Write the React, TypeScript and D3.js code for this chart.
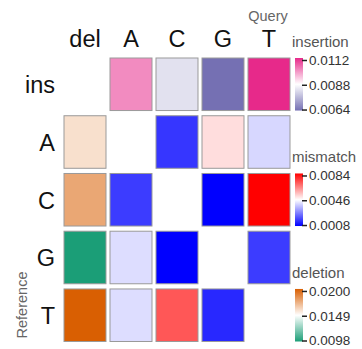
import React, { useRef, useEffect } from 'react';
import * as d3 from 'd3';

// query columns (del + bases) and reference rows (ins + bases)
const queryCols = ["del", "A", "C", "G", "T"];
const refRows = ["ins", "A", "C", "G", "T"];
const bases = ["A", "C", "G", "T"];

// insertion rate per query base (row "ins")
const insertionValues = [0.0101, 0.0083, 0.0064, 0.0112];
// deletion rate per reference base (column "del")
const deletionValues = [0.0159, 0.0177, 0.0098, 0.0200];
// mismatch rate, rows = reference base, cols = query base
const mismatchValues = [
  [null, 0.0016, 0.0051, 0.0040],
  [0.0017, null, 0.0008, 0.0084],
  [0.0041, 0.0008, null, 0.0017],
  [0.0041, 0.0071, 0.0014, null],
];

const insertionTicks = [0.0064, 0.0088, 0.0112];
const mismatchTicks = [0.0008, 0.0046, 0.0084];
const deletionTicks = [0.0098, 0.0149, 0.0200];

const FONT = "Liberation Sans, Arial, Helvetica, sans-serif";

function App() {
  const svgRef = useRef(null);

  useEffect(() => {
    const svg = d3.select(svgRef.current);
    svg.selectAll("*").remove();

    const x = d3.scaleBand().domain(queryCols).range([62, 292])
      .paddingInner(0.087).paddingOuter(0.0435);
    const y = d3.scaleBand().domain(refRows).range([55.4, 344.1])
      .paddingInner(0.09).paddingOuter(0.045);

    const insColor = d3.scaleLinear<string>()
      .domain(insertionTicks).range(["#7570b3", "#ffffff", "#e7298a"]);
    const misColor = d3.scaleLinear<string>()
      .domain(mismatchTicks).range(["#0000ff", "#ffffff", "#ff0000"]);
    const delColor = d3.scaleLinear<string>()
      .domain(deletionTicks).range(["#1b9e77", "#ffffff", "#d95f02"]);

    // build cell list
    const cells = [];
    bases.forEach((b, i) => {
      cells.push({ row: "ins", col: b, fill: insColor(insertionValues[i]) });
      cells.push({ row: b, col: "del", fill: delColor(deletionValues[i]) });
      bases.forEach((q, j) => {
        const v = mismatchValues[i][j];
        if (v != null) cells.push({ row: b, col: q, fill: misColor(v) });
      });
    });

    svg.append("g").selectAll("rect")
      .data(cells)
      .enter()
      .append("rect")
      .attr("x", d => x(d.col))
      .attr("y", d => y(d.row))
      .attr("width", x.bandwidth())
      .attr("height", y.bandwidth())
      .attr("fill", d => d.fill)
      .attr("stroke", "#9a9a9a")
      .attr("stroke-width", 1);

    // column labels
    svg.append("g").selectAll("text")
      .data(queryCols)
      .enter()
      .append("text")
      .attr("x", d => x(d) + x.bandwidth() / 2)
      .attr("y", 47)
      .attr("text-anchor", "middle")
      .attr("font-family", FONT)
      .attr("font-size", 23.5)
      .attr("fill", "#111")
      .text(d => d);

    // row labels
    svg.append("g").selectAll("text")
      .data(refRows)
      .enter()
      .append("text")
      .attr("x", 55)
      .attr("y", d => y(d) + y.bandwidth() / 2 + 9)
      .attr("text-anchor", "end")
      .attr("font-family", FONT)
      .attr("font-size", 23.5)
      .attr("fill", "#111")
      .text(d => d);

    // axis titles
    svg.append("text")
      .attr("x", 268).attr("y", 21)
      .attr("text-anchor", "middle")
      .attr("font-family", FONT).attr("font-size", 14.5)
      .attr("fill", "#666")
      .text("Query");
    svg.append("text")
      .attr("transform", "translate(27,305)rotate(-90)")
      .attr("text-anchor", "middle")
      .attr("font-family", FONT).attr("font-size", 14.5)
      .attr("fill", "#666")
      .text("Reference");

    // colour legends
    const legends = [
      { id: "ins", title: "insertion", ticks: insertionTicks, color: insColor, row: "ins" },
      { id: "mis", title: "mismatch", ticks: mismatchTicks, color: misColor, row: "C" },
      { id: "del", title: "deletion", ticks: deletionTicks, color: delColor, row: "T" },
    ];
    const defs = svg.append("defs");
    legends.forEach(l => {
      const top = y(l.row);
      const bottom = top + y.bandwidth();
      const grad = defs.append("linearGradient")
        .attr("id", "grad-" + l.id)
        .attr("x1", 0).attr("y1", 1).attr("x2", 0).attr("y2", 0);
      l.ticks.forEach((t, i) => {
        grad.append("stop")
          .attr("offset", i / (l.ticks.length - 1))
          .attr("stop-color", l.color(t));
      });
      const g = svg.append("g");
      g.append("text")
        .attr("x", 292).attr("y", top - 11)
        .attr("font-family", FONT).attr("font-size", 15)
        .attr("fill", "#555")
        .text(l.title);
      g.append("rect")
        .attr("x", 295).attr("y", top)
        .attr("width", 8).attr("height", bottom - top)
        .attr("fill", "url(#grad-" + l.id + ")");
      const s = d3.scaleLinear()
        .domain([l.ticks[0], l.ticks[l.ticks.length - 1]])
        .range([bottom - 1, top + 2]);
      const axis = d3.axisRight(s)
        .tickValues(l.ticks)
        .tickFormat(d3.format(".4f"))
        .tickSize(5)
        .tickPadding(2);
      const ag = g.append("g")
        .attr("transform", "translate(302,0)")
        .call(axis);
      ag.select(".domain").remove();
      ag.selectAll("line").attr("stroke", "#222").attr("stroke-width", 1.5);
      ag.selectAll("text")
        .attr("font-family", FONT)
        .attr("font-size", 13.5)
        .attr("fill", "#333");
    });
  }, []);

  return (
    <svg ref={svgRef} width={362} height={349}
      style={{ position: "absolute", left: 0, top: 0, background: "#fff" }}></svg>
  );
}

export default App;
